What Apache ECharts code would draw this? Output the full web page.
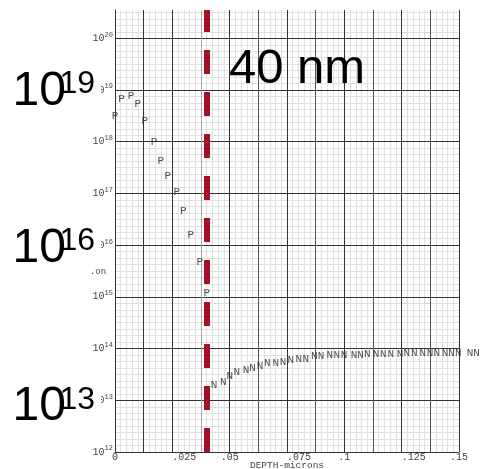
<!DOCTYPE html>
<html>
<head>
<meta charset="utf-8">
<script src="https://cdn.jsdelivr.net/npm/echarts@6/dist/echarts.min.js"></script>
<style>
html, body { margin: 0; padding: 0; background: #fff; }
#chart { width: 480px; height: 469px; }
</style>
</head>
<body>
<div id="chart"></div>
<script>
// Dopant profile: depth (microns) vs. log10 of concentration.
const depthP = [0.000, 0.0029, 0.0070, 0.0099, 0.0130, 0.0170, 0.0200, 0.0230, 0.0270, 0.0298, 0.0330, 0.0370, 0.0400];
const expP   = [18.49, 18.83, 18.89, 18.73, 18.39, 18.00, 17.63, 17.34, 17.03, 16.66, 16.20, 15.67, 15.08];

const depthN = [0.0432, 0.0472, 0.0501, 0.0531, 0.0571, 0.0600, 0.0632, 0.0664, 0.0701, 0.0733, 0.0767,
                0.0802, 0.0832, 0.0869, 0.0898, 0.0937, 0.0967, 0.0999, 0.1042, 0.1071, 0.1100, 0.1138, 0.1170,
                0.1203, 0.1243, 0.1272, 0.1305, 0.1342, 0.1374, 0.1403, 0.1439, 0.1468, 0.1497, 0.1548, 0.1577];
const expN   = [13.30, 13.36, 13.47, 13.55, 13.59, 13.62, 13.67, 13.71, 13.72, 13.745, 13.78,
                13.80, 13.80, 13.85, 13.85, 13.87, 13.87, 13.88, 13.88, 13.88, 13.89, 13.90, 13.90,
                13.90, 13.90, 13.91, 13.91, 13.91, 13.91, 13.91, 13.91, 13.91, 13.91, 13.91, 13.91];

const xTickLabels = ['0', '.025', '.05', '.075', '.1', '.125', '.15'];
const yTickExponents = [12, 13, 14, 15, 16, 17, 18, 19, 20];
const junctionDepth = 0.0415;   // 40 nm marker
const bigExponents = [19, 16, 13];

const X_MIN = 0, X_MAX = 0.15, X_STEP = 0.0125;
const Y_MIN = 12, Y_MAX = 20.547, Y_STEP = 1;

const mono = '"Liberation Mono", "DejaVu Sans Mono", monospace';
const sans = '"Liberation Sans", Arial, sans-serif';

const chart = echarts.init(document.getElementById('chart'));

// Major vertical grid colours, one per 0.0125 step
const xMajorColors = ['#333', '#333', '#333', '#a8a8a8', '#333', '#555', '#333', '#555', '#333', '#555', '#333', '#555', '#333'];
const minorColor = '#e0e0e0';

// Large overlay exponent labels
const bigPos = {19: [92, 84.3], 16: [248.8, 241.3], 13: [407.2, 399.8]};
const graphics = [];
bigExponents.forEach(function (e) {
  graphics.push({
    type: 'text', z: 100,
    style: { x: 59.5, y: bigPos[e][1], text: String(e), font: '32px ' + sans, fill: '#000',
             align: 'left', verticalAlign: 'middle', backgroundColor: '#fff', padding: [0, 6, 0, 0] }
  });
  graphics.push({
    type: 'text', z: 101,
    style: { x: 12.5, y: bigPos[e][0], text: '10', font: '48px ' + sans, fill: '#000',
             align: 'left', verticalAlign: 'middle' }
  });
});
graphics.push({
  type: 'text', z: 100,
  style: { x: 229, y: 69.8, text: '40 nm', font: '49px ' + sans, fill: '#000',
           align: 'left', verticalAlign: 'middle' }
});
graphics.push({
  type: 'text', z: 90,
  style: { x: 98, y: 272, text: '.on', font: '9px ' + mono, fill: '#444',
           align: 'center', verticalAlign: 'middle' }
});

function xLabel(v) {
  const k = Math.round(v / X_STEP);
  if (Math.abs(v - k * X_STEP) > 1e-6 || k % 2 !== 0) return '';
  const lab = xTickLabels[k / 2];
  if (lab === undefined) return '';
  return lab.length > 3 ? '    ' + lab : lab;
}

function yLabel(v) {
  const r = Math.round(v);
  if (Math.abs(v - r) > 1e-6 || yTickExponents.indexOf(r) < 0) return '';
  return '{b|10}{s|' + r + '}';
}

const solid = function (color) { return { color: color, width: 1, type: 'solid' }; };

const option = {
  animation: false,
  backgroundColor: '#fff',
  grid: { left: 115, right: 21, top: 10, bottom: 17, containLabel: false, outerBoundsMode: 'none' },
  xAxis: [
    {
      type: 'value', min: X_MIN, max: X_MAX, interval: X_STEP, z: 3,
      name: 'DEPTH-microns', nameLocation: 'middle', nameGap: 8, nameMoveOverlap: false,
      nameTextStyle: { fontFamily: mono, fontSize: 9.5, color: '#444' },
      axisLine: { show: true, lineStyle: solid('#333') },
      axisTick: { show: false },
      axisLabel: { formatter: xLabel, fontFamily: mono, fontSize: 10, color: '#444', margin: 0 },
      splitLine: { show: true, lineStyle: { color: xMajorColors, width: 1, type: 'solid' } }
    },
    {
      // fine grid paper, drawn underneath
      type: 'value', min: X_MIN, max: X_MAX, interval: X_STEP, z: 0, position: 'bottom',
      axisLine: { show: false }, axisTick: { show: false }, axisLabel: { show: false },
      splitLine: { show: false },
      minorTick: { show: false, splitNumber: 5 },
      minorSplitLine: { show: true, lineStyle: solid(minorColor) }
    }
  ],
  yAxis: [
    {
      type: 'value', min: Y_MIN, max: Y_MAX, interval: Y_STEP, z: 3,
      axisLine: { show: true, lineStyle: solid('#333') },
      axisTick: { show: false },
      axisLabel: {
        formatter: yLabel, margin: 2, color: '#444',
        rich: {
          b: { fontFamily: mono, fontSize: 10, lineHeight: 14, color: '#444' },
          s: { fontFamily: mono, fontSize: 7, lineHeight: 7, verticalAlign: 'top', color: '#444' }
        }
      },
      splitLine: { show: true, showMaxLine: false, lineStyle: solid('#333') }
    },
    {
      type: 'value', min: Y_MIN, max: Y_MAX, interval: Y_STEP, z: 0, position: 'left',
      axisLine: { show: false }, axisTick: { show: false }, axisLabel: { show: false },
      splitLine: { show: false },
      minorTick: { show: false, splitNumber: 8 },
      minorSplitLine: { show: true, lineStyle: solid(minorColor) }
    }
  ],
  graphic: graphics,
  series: [
    {
      name: 'P', type: 'scatter', symbol: 'circle', symbolSize: 1,
      itemStyle: { color: 'rgba(0,0,0,0)' },
      data: depthP.map(function (d, i) { return [d, expP[i]]; }),
      label: { show: true, position: 'inside', formatter: 'P', fontFamily: mono, fontSize: 11, color: '#222' },
      z: 5
    },
    {
      name: 'N', type: 'scatter', symbol: 'circle', symbolSize: 1, clip: false,
      itemStyle: { color: 'rgba(0,0,0,0)' },
      data: depthN.map(function (d, i) { return [d, expN[i]]; }),
      label: { show: true, position: 'inside', formatter: 'N', fontFamily: mono, fontSize: 11, color: '#222' },
      markLine: {
        silent: true, symbol: ['none', 'none'], label: { show: false },
        lineStyle: { color: '#a50f27', width: 6, type: [24, 18], cap: 'butt' },
        data: [{ xAxis: junctionDepth }]
      },
      z: 5
    }
  ]
};
chart.setOption(option);
</script>
</body>
</html>
